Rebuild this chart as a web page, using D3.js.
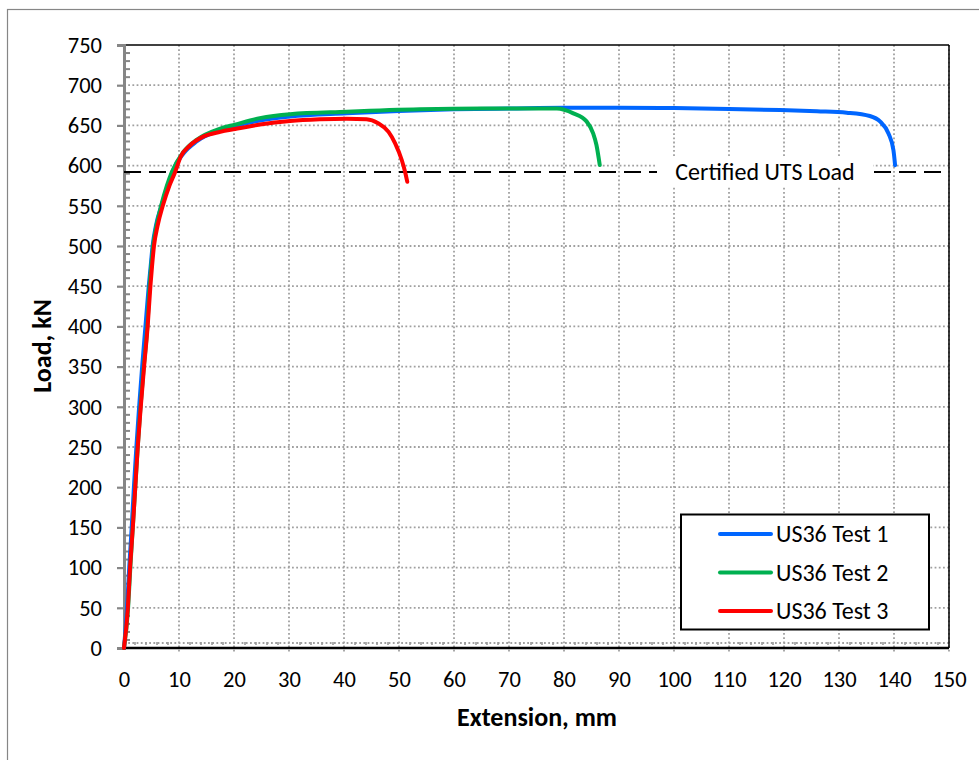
<!DOCTYPE html>
<html>
<head>
<meta charset="utf-8">
<script src="https://cdn.jsdelivr.net/npm/d3@7"></script>
<style>
  html, body { margin: 0; padding: 0; background: #fff; }
  svg { display: block; font-family: Carlito, Calibri, Lato, sans-serif; }
</style>
</head>
<body>
<svg id="chart" width="979" height="760"></svg>
<script>
// Load–extension records for three US36 tensile tests (extension in mm, load in kN)
const test1Ext  = [0, 0.55, 0.95, 1.4, 1.8, 2.25, 2.75, 3.3, 3.9, 4.5, 4.85, 5.2, 5.8, 6.8, 8.0, 8.8, 10.8, 13.2, 17.5, 20.2, 24.7, 30.2, 40.5, 50, 60, 70, 80, 90, 100, 110, 119.3, 126, 131.4, 135.6, 137.5, 139.0, 139.9, 140.2];
const test1Load = [0, 50, 100, 150, 200, 250, 300, 350, 400, 450, 475, 500, 525, 550, 575, 592, 615, 630, 644, 649, 656, 661, 665, 668, 670, 671, 672, 672, 671.5, 670.5, 669, 667.5, 665.8, 661.7, 654.6, 640, 619, 600.5];

const test2Ext  = [0, 0.75, 1.15, 1.6, 2.05, 2.5, 3.0, 3.6, 4.25, 4.65, 4.95, 5.3, 5.9, 6.75, 7.8, 8.7, 10.8, 13.2, 17.5, 20.2, 24.7, 30.2, 40.5, 53.8, 65, 78.7, 81.7, 84.1, 85.3, 85.9, 86.5];
const test2Load = [0, 50, 100, 150, 200, 250, 300, 350, 400, 450, 475, 500, 525, 550, 575, 592, 617, 632, 646, 651, 659, 664, 667, 670, 671, 671, 665, 655, 640, 625.6, 600.7];

const test3Ext  = [0, 0.7, 1.1, 1.6, 2.05, 2.5, 3.05, 3.65, 4.3, 4.8, 5.1, 5.45, 6.1, 7.05, 8.25, 9.3, 10.3, 12.0, 14.4, 17.5, 20.2, 24.7, 30.2, 35.6, 40.5, 44.1, 46.2, 48.1, 49.3, 50.5, 51.1, 51.5];
const test3Load = [0, 50, 100, 150, 200, 250, 300, 350, 400, 450, 475, 500, 525, 550, 575, 592, 611, 625, 636, 642, 645.5, 651, 655.5, 657.6, 658.4, 657.6, 652.6, 642, 627.7, 607, 592.4, 580];

const seriesNames  = ["US36 Test 1", "US36 Test 2", "US36 Test 3"];
const seriesColors = ["#0066ff", "#00b050", "#ff0000"];

const xTicks = d3.range(0, 151, 10);
const yTicks = d3.range(0, 751, 50);
const certifiedUTS = 592;
const utsLabel = "Certified UTS Load";
const xTitle = "Extension, mm";
const yTitle = "Load, kN";

const svg = d3.select("#chart");
const x = d3.scaleLinear().domain([0, 150]).range([124, 949]);
const y = d3.scaleLinear().domain([0, 750]).range([648, 45]);

const tickFont = "22.5px";

// outer chart frame
svg.append("rect").attr("x", 7.5).attr("y", 9.5).attr("width", 990).attr("height", 790)
  .attr("fill", "#fff").attr("stroke", "#868686").attr("stroke-width", 1.2);

// dotted grid
const grid = svg.append("g").attr("stroke", "#a0a0a0").attr("stroke-width", 1.8)
  .attr("stroke-dasharray", "1.8,2.4");
grid.selectAll(".gx").data(xTicks.slice(1)).join("line")
  .attr("x1", d => x(d)).attr("x2", d => x(d)).attr("y1", y(750)).attr("y2", y(0) + 6);
grid.selectAll(".gy").data(yTicks.slice(0, -1)).join("line")
  .attr("x1", x(0)).attr("x2", x(150))
  .attr("y1", d => y(d) - (d === 0 ? 5 : 0)).attr("y2", d => y(d) - (d === 0 ? 5 : 0));

// plot frame: top and right in black
svg.append("line").attr("x1", x(0)).attr("x2", x(150)).attr("y1", y(750)).attr("y2", y(750))
  .attr("stroke", "#000").attr("stroke-width", 1.5);
svg.append("line").attr("x1", x(150)).attr("x2", x(150)).attr("y1", y(750)).attr("y2", y(0))
  .attr("stroke", "#000").attr("stroke-width", 1.5);

// y axis (grey) with minor ticks every 10 kN
const yAxis = d3.axisLeft(y).tickValues(yTicks).tickSize(7).tickPadding(15)
  .tickFormat(d3.format("d"));
const gy = svg.append("g").attr("transform", `translate(${x(0)},0)`).call(yAxis);
gy.select(".domain").attr("stroke", "#868686").attr("stroke-width", 3);
gy.selectAll(".tick line").attr("stroke", "#868686").attr("stroke-width", 2.2);
gy.selectAll(".tick text").attr("font-size", tickFont).attr("fill", "#000")
  .attr("font-family", "Carlito, Calibri, Lato, sans-serif");
const yMinor = d3.range(0, 751, 10).filter(d => d % 50 !== 0);
svg.append("g").selectAll("line").data(yMinor).join("line")
  .attr("x1", x(0)).attr("x2", x(0) + 6).attr("y1", d => y(d)).attr("y2", d => y(d))
  .attr("stroke", "#868686").attr("stroke-width", 2);

// x axis labels, minor ticks every 2 mm, and the zero line
const xMinor = d3.range(2, 150, 2).filter(d => d % 10 !== 0);
svg.append("g").selectAll("line").data(xMinor).join("line")
  .attr("x1", d => x(d)).attr("x2", d => x(d)).attr("y1", y(0) - 6).attr("y2", y(0) - 3)
  .attr("stroke", "#9a9a9a").attr("stroke-width", 1.6);
const xAxis = d3.axisBottom(x).tickValues(xTicks).tickSize(0).tickPadding(23)
  .tickFormat(d3.format("d"));
const gx = svg.append("g").attr("transform", `translate(0,${y(0)})`).call(xAxis);
gx.select(".domain").remove();
gx.selectAll(".tick text").attr("font-size", tickFont).attr("fill", "#000")
  .attr("font-family", "Carlito, Calibri, Lato, sans-serif");
svg.append("line").attr("x1", x(0)).attr("x2", x(150)).attr("y1", y(0)).attr("y2", y(0))
  .attr("stroke", "#000").attr("stroke-width", 2.6);

// certified UTS reference line with its label
svg.append("line").attr("x1", x(0)).attr("x2", x(150))
  .attr("y1", y(certifiedUTS)).attr("y2", y(certifiedUTS))
  .attr("stroke", "#000").attr("stroke-width", 2).attr("stroke-dasharray", "17,8");
svg.append("rect").attr("x", 657).attr("y", 156).attr("width", 216).attr("height", 31)
  .attr("fill", "#fff");
svg.append("text").attr("x", 765).attr("y", y(certifiedUTS) + 8).attr("text-anchor", "middle")
  .attr("font-size", "24px").text(utsLabel);

// load–extension curves
const line = d3.line().x(d => x(d[0])).y(d => y(d[1])).curve(d3.curveMonotoneX);
const series = [
  d3.zip(test1Ext, test1Load),
  d3.zip(test2Ext, test2Load),
  d3.zip(test3Ext, test3Load)
];
svg.append("g").selectAll("path").data(series).join("path")
  .attr("d", line).attr("fill", "none")
  .attr("stroke", (d, i) => seriesColors[i]).attr("stroke-width", 4)
  .attr("stroke-linejoin", "round").attr("stroke-linecap", "round");

// legend
const legend = svg.append("g");
legend.append("rect").attr("x", 681).attr("y", 514.5).attr("width", 248).attr("height", 115)
  .attr("fill", "#fff").attr("stroke", "#000").attr("stroke-width", 2);
const rows = legend.selectAll(".row").data(seriesNames).join("g")
  .attr("transform", (d, i) => `translate(0,${534 + i * 38.5})`);
rows.append("line").attr("x1", 720).attr("x2", 771).attr("y1", 0).attr("y2", 0)
  .attr("stroke", (d, i) => seriesColors[i]).attr("stroke-width", 4).attr("stroke-linecap", "round");
rows.append("text").attr("x", 776).attr("y", 8).attr("font-size", "24px").text(d => d);

// axis titles
svg.append("text").attr("x", 537).attr("y", 726).attr("text-anchor", "middle")
  .attr("font-weight", "bold").attr("font-size", "26px").text(xTitle);
svg.append("text").attr("transform", "translate(51,346) rotate(-90)").attr("text-anchor", "middle")
  .attr("font-weight", "bold").attr("font-size", "26px").text(yTitle);
</script>
</body>
</html>
